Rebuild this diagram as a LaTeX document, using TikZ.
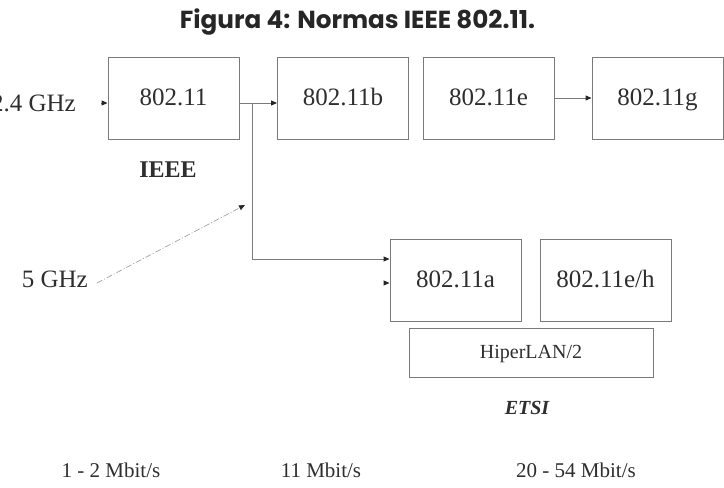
\documentclass[tikz,border=0pt]{standalone}
\usepackage{fontspec}
\usepackage{graphicx}
\setmainfont{Liberation Serif}
\newfontfamily\titlefont{Poppins}
\usetikzlibrary{arrows.meta}
\definecolor{linegray}{HTML}{7A7A7A}
\definecolor{txtgray}{HTML}{2E2E2E}
\tikzset{
  box/.style={draw=linegray, line width=0.9pt, inner sep=0pt, text=txtgray, text height=17pt, text depth=2pt, font=\fontsize{25}{25}\selectfont},
  lbl/.style={inner sep=0pt, text=txtgray},
  conn/.style={draw=linegray, line width=0.9pt},
  tip/.style={-{Triangle[length=6pt,width=5pt,black!85]}, conn},
}
\begin{document}
\begin{tikzpicture}[x=1pt,y=-1pt]
\useasboundingbox (0,0) rectangle (724,488);
% title
\node[lbl, text=black!85, anchor=base] (title) at (357.5,28) {\resizebox{355pt}{!}{\titlefont\bfseries Figura 4: Normas IEEE 802.11.}};
% top row
\node[box, minimum width=131pt, minimum height=82pt] (b1) at (173.5,98) {802.11};
\node[box, minimum width=131pt, minimum height=82pt] (b2) at (343,98) {802.11b};
\node[box, minimum width=131pt, minimum height=82pt] (b3) at (488.5,98) {802.11e};
\node[box, minimum width=131pt, minimum height=82pt] (b4) at (657.5,98) {802.11g};
% bottom boxes
\node[box, minimum width=131pt, minimum height=82pt] (a1) at (455.5,280) {802.11a};
\node[box, minimum width=131pt, minimum height=82pt] (a2) at (605.5,280) {802.11e/h};
\node[box, minimum width=244pt, minimum height=49pt, text height=14pt, font=\fontsize{20}{20}\selectfont] (hl) at (531,352.5) {HiperLAN/2};
% labels
\node[lbl, anchor=east, font=\fontsize{25}{25}\selectfont] (g24) at (76,103) {2.4 GHz};
\node[lbl, anchor=east, font=\fontsize{25}{25}\selectfont] (g5) at (88,279) {5 GHz};
\node[lbl, font=\fontsize{24}{24}\selectfont\bfseries] (ieee) at (168,170) {IEEE};
\node[lbl, font=\fontsize{20}{20}\selectfont\bfseries\itshape] (etsi) at (527,408) {ETSI};
\node[lbl, anchor=base, font=\fontsize{21}{21}\selectfont] (r1) at (111,477) {1 - 2 Mbit/s};
\node[lbl, anchor=base, font=\fontsize{21}{21}\selectfont] (r2) at (321,477) {11 Mbit/s};
\node[lbl, anchor=base, font=\fontsize{21}{21}\selectfont] (r3) at (576,477) {20 - 54 Mbit/s};
% connectors
\coordinate (in24) at (101,103);
\coordinate (j) at (252,103);
\coordinate (d5) at (97,283);
\coordinate (d5e) at (245,205);
\coordinate (s5) at (384,283);
\draw[tip] (in24) -- (b1.west |- in24);
\draw[tip] (b1.east |- j) -- (b2.west |- j);
\draw[tip] (b3) -- (b4);
\draw[tip] (j) |- (a1.west |- 0,259);
\draw[tip] (s5) -- (a1.west |- s5);
\draw[-{Triangle[length=6pt,width=5pt,black!85]}, draw=linegray!70, line width=0.7pt, dash pattern=on 6pt off 2pt on 1pt off 2pt] (d5) -- (d5e);
\end{tikzpicture}
\end{document}
